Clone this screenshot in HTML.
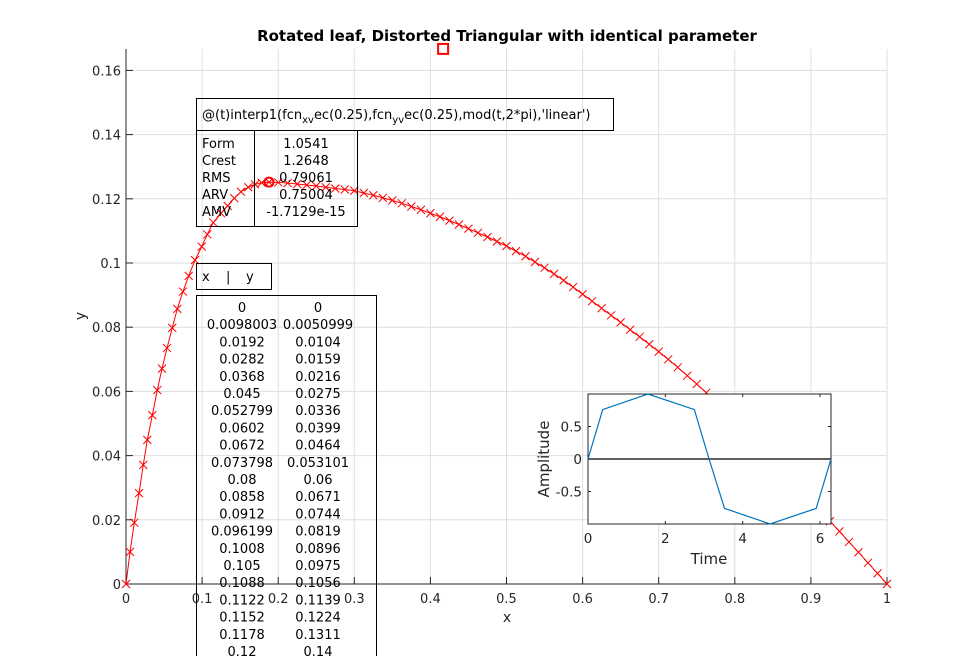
<!DOCTYPE html>
<html><head><meta charset="utf-8"><style>
body{margin:0;background:#fff;}
svg text{font-family:"DejaVu Sans","Liberation Sans",sans-serif;}
</style></head><body>
<svg width="979" height="656" viewBox="0 0 979 656" xmlns="http://www.w3.org/2000/svg">
<rect x="0" y="0" width="979" height="656" fill="#fff"/>
<g id="grid"></g>
<g id="axes"></g>
<g id="curve"></g>
<g id="boxes"></g>
<g id="inset"></g>
</svg>
<script>
const xs=[0,0.0053,0.0109,0.0171,0.0227,0.0280,0.0346,0.0411,0.0473,0.0539,0.0608,0.0674,0.0749,0.0824,0.0907,0.0995,0.1068,0.1147,0.1248,0.1336,0.1423,0.1511,0.1607,0.1695,0.1783,0.1879,
0.2,0.2125,0.225,0.2375,0.25,0.2625,0.275,0.2875,0.3,0.3125,0.325,0.3375,0.35,0.3625,0.375,0.3875,0.4,0.4125,0.425,0.4375,0.45,0.4625,0.475,0.4875,0.5,0.5125,0.525,0.5375,0.55,0.5625,0.575,0.5875,0.6,0.6125,0.625,0.6375,0.65,0.6625,0.675,0.6875,0.7,0.7125,0.725,0.7375,0.75,0.7625,0.775,0.7875,0.8,0.8125,0.825,0.8375,0.85,0.8625,0.875,0.8875,0.9,0.9125,0.925,0.9375,0.95,0.9625,0.975,0.9875,1];
const ys=[0,0.0100,0.0191,0.0283,0.0371,0.0449,0.0526,0.0604,0.0671,0.0735,0.0798,0.0857,0.0911,0.0960,0.1009,0.1051,0.1089,0.1126,0.1155,0.1178,0.1202,0.1222,0.1236,0.1245,0.1250,0.1252,
0.1251,0.1249,0.1246,0.1243,0.1240,0.1236,0.1232,0.1229,0.1225,0.1218,0.1211,0.1203,0.1195,0.1186,0.1176,0.1166,0.1155,0.1144,0.1132,0.1120,0.1107,0.1094,0.1081,0.1067,0.1053,0.1037,0.1021,0.1003,0.0985,0.0966,0.0946,0.0925,0.0903,0.0881,0.0859,0.0837,0.0815,0.0792,0.0770,0.0747,0.0724,0.0700,0.0675,0.0649,0.0623,0.0596,0.0566,0.0537,0.0507,0.0477,0.0447,0.0416,0.0386,0.0355,0.0324,0.0292,0.0260,0.0228,0.0196,0.0164,0.0131,0.0099,0.0066,0.0033,0];
const xTicks=[0,0.1,0.2,0.3,0.4,0.5,0.6,0.7,0.8,0.9,1];
const xTickLabels=["0","0.1","0.2","0.3","0.4","0.5","0.6","0.7","0.8","0.9","1"];
const yTicks=[0,0.02,0.04,0.06,0.08,0.1,0.12,0.14,0.16];
const yTickLabels=["0","0.02","0.04","0.06","0.08","0.1","0.12","0.14","0.16"];
const peakPoint=[0.1879,0.1252];
const topMarker=[0.4167,0.1667];
const tableX=["0","0.0098003","0.0192","0.0282","0.0368","0.045","0.052799","0.0602","0.0672","0.073798","0.08","0.0858","0.0912","0.096199","0.1008","0.105","0.1088","0.1122","0.1152","0.1178","0.12"];
const tableY=["0","0.0050999","0.0104","0.0159","0.0216","0.0275","0.0336","0.0399","0.0464","0.053101","0.06","0.0671","0.0744","0.0819","0.0896","0.0975","0.1056","0.1139","0.1224","0.1311","0.14"];
const statNames=["Form","Crest","RMS","ARV","AMV"];
const statVals=["1.0541","1.2648","0.79061","0.75004","-1.7129e-15"];
const insetT=[0,0.38,1.55,2.75,3.13,3.53,4.71,5.9,6.283];
const insetA=[0,0.76,1,0.76,0,-0.76,-1,-0.76,0];
const insetXTicks=[0,2,4,6];
const insetYTicks=[-0.5,0,0.5];
const insetYTickLabels=["-0.5","0","0.5"];

const NS="http://www.w3.org/2000/svg";
function mk(parent,tag,attrs,txt){const e=document.createElementNS(NS,tag);for(const k in attrs)e.setAttribute(k,attrs[k]);if(txt!==undefined)e.textContent=txt;parent.appendChild(e);return e;}
const L=126,R=887,B=584,T=49;
const X=v=>L+v*(R-L);
const Y=v=>B-v*3210;
const grid=document.getElementById('grid'),axes=document.getElementById('axes'),curve=document.getElementById('curve'),boxes=document.getElementById('boxes'),inset=document.getElementById('inset');
xTicks.forEach((t,i)=>{
 let g=mk(grid,'line',{x1:X(t),x2:X(t),y1:T,y2:B,stroke:'#dedede','stroke-width':1});
 
 
 let tk=mk(axes,'line',{x1:X(t),x2:X(t),y1:B,y2:B-7,stroke:'#262626'});
 
 
 let tl=mk(axes,'text',{x:X(t),y:B+19,'font-size':13,'text-anchor':'middle',fill:'#262626'},xTickLabels[i]);
 
 
});
yTicks.forEach((t,i)=>{
 let g=mk(grid,'line',{x1:L,x2:R,y1:Y(t),y2:Y(t),stroke:'#dedede','stroke-width':1});
 
 
 let tk=mk(axes,'line',{x1:L,x2:L+7,y1:Y(t),y2:Y(t),stroke:'#262626'});
 
 
 let tl=mk(axes,'text',{x:L-5,y:Y(t)+5,'font-size':13,'text-anchor':'end',fill:'#262626'},yTickLabels[i]);
 
 
});
let ab=mk(axes,'path',{d:`M${L},${T}V${B}H${R}`,fill:'none',stroke:'#262626','stroke-width':1});


let ttl=mk(axes,'text',{x:507,y:41,'font-size':15,'font-weight':'bold','text-anchor':'middle',fill:'#000'},'Rotated leaf, Distorted Triangular with identical parameter');


let xl=mk(axes,'text',{x:507,y:622,'font-size':14,'text-anchor':'middle',fill:'#262626'},'x');


let yl=mk(axes,'text',{x:85,y:316,'font-size':14,'text-anchor':'middle',fill:'#262626',transform:'rotate(-90 85 316)'},'y');



let pts=xs.map((v,i)=>X(v)+','+Y(ys[i])).join(' ');
let pl=mk(curve,'polyline',{points:pts,fill:'none',stroke:'#ff0000','stroke-width':1});


xs.forEach((v,i)=>{const cx=X(v),cy=Y(ys[i]);
 let m=mk(curve,'path',{d:`M${cx-4},${cy-4}L${cx+4},${cy+4}M${cx-4},${cy+4}L${cx+4},${cy-4}`,stroke:'#ff0000','stroke-width':1});
 
 
});
let pk=mk(curve,'circle',{cx:X(peakPoint[0]),cy:Y(peakPoint[1]),r:4.5,fill:'none',stroke:'#ff0000','stroke-width':2});


let sq=mk(curve,'rect',{x:X(topMarker[0])-5,y:Y(topMarker[1])-5,width:10,height:10,fill:'none',stroke:'#ff0000','stroke-width':2});



function box(x,y,w,h,name){let r=mk(boxes,'rect',{x:x+.5,y:y+.5,width:w,height:h,fill:'none',stroke:'#000','stroke-width':1});}
box(196,98,417,32,'formula-box');
let ft=mk(boxes,'text',{x:202,y:119,'font-size':13,fill:'#000'});


ft.innerHTML='@(t)interp1(fcn<tspan dy="4" font-size="10">xv</tspan><tspan dy="-4">ec(0.25),fcn</tspan><tspan dy="4" font-size="10">yv</tspan><tspan dy="-4">ec(0.25),mod(t,2*pi),\'linear\')</tspan>';
box(196,130,58,96,'stat-names-box');
box(254,130,103,96,'stat-values-box');
statNames.forEach((s,i)=>{
 let t=mk(boxes,'text',{x:202,y:148+i*17,'font-size':13,fill:'#000'},s);
 
 
 let v=mk(boxes,'text',{x:306,y:148+i*17,'font-size':13,'text-anchor':'middle',fill:'#000'},statVals[i]);
 
 
});
box(196,263,75,26,'xy-header-box');
[["x",202],["|",226],["y",246]].forEach(p=>{
 let hx=mk(boxes,'text',{x:p[1],y:281,'font-size':13,fill:'#000'},p[0]);
 
 
});
box(196,295,180,380,'xy-table-box');
tableX.forEach((s,i)=>{
 let a=mk(boxes,'text',{x:242,y:312+i*17.2,'font-size':13,'text-anchor':'middle',fill:'#000'},s);
 
 
 let b=mk(boxes,'text',{x:318,y:312+i*17.2,'font-size':13,'text-anchor':'middle',fill:'#000'},tableY[i]);
 
 
});

const IL=588,IR=831,IT=394,IB=524;
const IX=t=>IL+t*(IR-IL)/6.2832;
const IY=a=>(IT+IB)/2-a*65;
let ib=mk(inset,'rect',{x:IL,y:IT,width:IR-IL,height:IB-IT,fill:'#fff',stroke:'#262626','stroke-width':1});


insetXTicks.forEach(t=>{
 let k=mk(inset,'path',{d:`M${IX(t)},${IB}v-3M${IX(t)},${IT}v3`,stroke:'#262626'});
 
 
 let l=mk(inset,'text',{x:IX(t),y:IB+19,'font-size':13.5,'text-anchor':'middle',fill:'#262626'},String(t));
 
 
});
insetYTicks.forEach((t,i)=>{
 let k=mk(inset,'path',{d:`M${IL},${IY(t)}h3M${IR},${IY(t)}h-3`,stroke:'#262626'});
 
 
 let l=mk(inset,'text',{x:IL-6,y:IY(t)+5,'font-size':13.5,'text-anchor':'end',fill:'#262626'},insetYTickLabels[i]);
 
 
});
let zl=mk(inset,'line',{x1:IL,x2:IR,y1:IY(0),y2:IY(0),stroke:'#000','stroke-width':1.2});


let ipl=mk(inset,'polyline',{points:insetT.map((t,i)=>IX(t)+','+IY(insetA[i])).join(' '),fill:'none',stroke:'#0072bd','stroke-width':1.2});


let it=mk(inset,'text',{x:709,y:564,'font-size':15,'text-anchor':'middle',fill:'#262626'},'Time');


let ia=mk(inset,'text',{x:549,y:459,'font-size':15,'text-anchor':'middle',fill:'#262626',transform:'rotate(-90 549 459)'},'Amplitude');


</script>
</body></html>
